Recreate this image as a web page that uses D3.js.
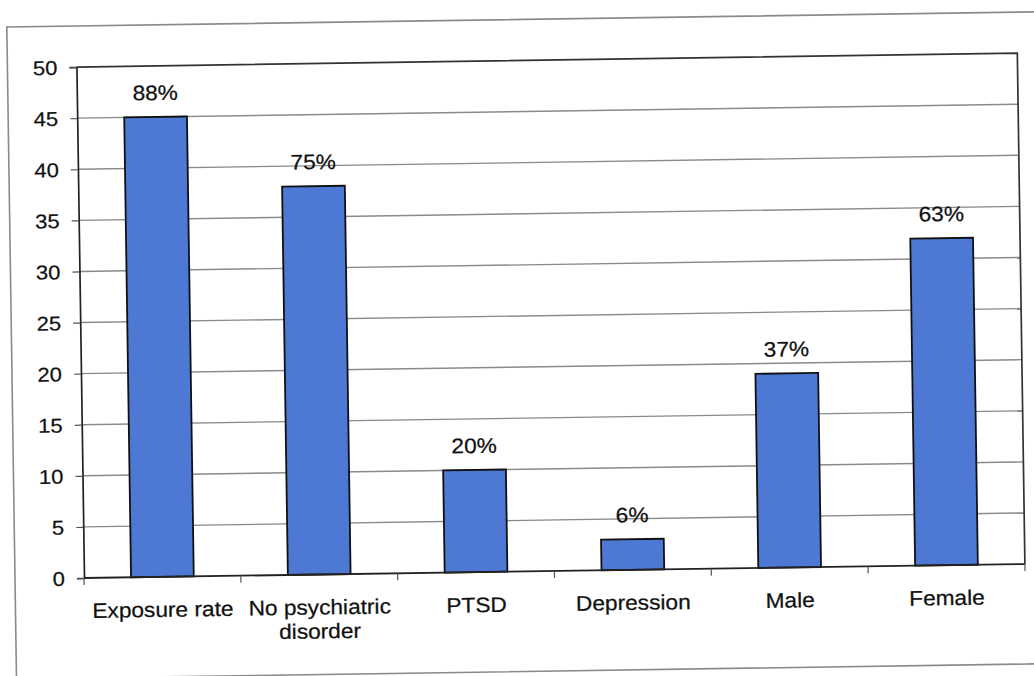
<!DOCTYPE html>
<html>
<head>
<meta charset="utf-8">
<script src="https://cdn.jsdelivr.net/npm/d3@7"></script>
<style>
  html, body { margin: 0; padding: 0; background: #fff; }
  svg { display: block; }
  text { font-family: "Liberation Sans", Arial, sans-serif; fill: #111; }
</style>
</head>
<body>
<svg id="chart" width="1034" height="676"></svg>
<script>
// ---- data ----
const categories = ["Exposure rate", "No psychiatric disorder", "PTSD", "Depression", "Male", "Female"];
const counts = [45, 38, 10, 3, 19, 32];
const percentLabels = ["88%", "75%", "20%", "6%", "37%", "63%"];
const yTicks = [0, 5, 10, 15, 20, 25, 30, 35, 40, 45, 50];

// ---- layout ----
const W = 1034, H = 676;
const plot = { left: 84, right: 1025, top: 67, bottom: 578 };
const tilt = -0.85; // the scanned page is slightly rotated
const sxTick = 1.1, sxText = 1.08;

const svg = d3.select("#chart");
svg.append("rect").attr("width", W).attr("height", H).attr("fill", "#fff");

const g = svg.append("g")
  .attr("transform", `rotate(${tilt} ${plot.left} ${plot.bottom})`);

// outer chart frame
g.append("rect")
  .attr("x", 15).attr("y", 26)
  .attr("width", 1040).attr("height", 652)
  .attr("fill", "none").attr("stroke", "#8a8a8a").attr("stroke-width", 1.6);

const x = d3.scaleBand()
  .domain(categories)
  .range([plot.left, plot.right])
  .paddingInner(0.6)
  .paddingOuter(0.3);

const y = d3.scaleLinear().domain([0, 50]).range([plot.bottom, plot.top]);

// gridlines
g.append("g").selectAll("line")
  .data(yTicks.filter(t => t > 0 && t < 50))
  .join("line")
  .attr("x1", plot.left).attr("x2", plot.right)
  .attr("y1", d => y(d)).attr("y2", d => y(d))
  .attr("stroke", "#8a8a8a").attr("stroke-width", 1.4);

// plot border (top & right)
g.append("path")
  .attr("d", `M${plot.left},${plot.top}H${plot.right}V${plot.bottom}`)
  .attr("fill", "none").attr("stroke", "#333").attr("stroke-width", 1.7);

// bars
g.append("g").selectAll("rect")
  .data(counts)
  .join("rect")
  .attr("x", (d, i) => x(categories[i]))
  .attr("width", x.bandwidth())
  .attr("y", d => y(d))
  .attr("height", d => y(0) - y(d))
  .attr("fill", "#4d78d3")
  .attr("stroke", "#111").attr("stroke-width", 1.8);

// value labels
g.append("g").selectAll("text")
  .data(percentLabels)
  .join("text")
  .attr("transform", (d, i) =>
    `translate(${x(categories[i]) + x.bandwidth() / 2},${y(counts[i]) - 17}) scale(${sxText},1)`)
  .attr("text-anchor", "middle")
  .attr("font-size", 21)
  .attr("stroke", "#111").attr("stroke-width", 0.25)
  .text(d => d);

// y axis
const yAxis = g.append("g")
  .attr("transform", `translate(${plot.left},0)`)
  .call(d3.axisLeft(y).tickValues(yTicks).tickSize(7).tickPadding(12));
yAxis.select(".domain").attr("stroke", "#222").attr("stroke-width", 1.7);
yAxis.selectAll(".tick line").attr("stroke", "#555").attr("stroke-width", 1.2);
yAxis.selectAll(".tick text")
  .attr("font-size", 20)
  .attr("font-family", "Liberation Sans, Arial, sans-serif")
  .attr("fill", "#111")
  .attr("stroke", "#111").attr("stroke-width", 0.25)
  .attr("x", null)
  .attr("dy", "0.35em")
  .attr("transform", `translate(-19,0) scale(${sxTick},1)`);

// x axis line with category separator ticks
const step = x.step();
const firstEdge = plot.left;
g.append("line")
  .attr("x1", plot.left).attr("x2", plot.right)
  .attr("y1", plot.bottom).attr("y2", plot.bottom)
  .attr("stroke", "#222").attr("stroke-width", 1.8);
g.append("g").selectAll("line")
  .data(d3.range(categories.length + 1))
  .join("line")
  .attr("x1", i => i === 0 ? plot.left : (i === categories.length ? plot.right : x(categories[i]) - step * x.paddingInner() / 2))
  .attr("x2", i => i === 0 ? plot.left : (i === categories.length ? plot.right : x(categories[i]) - step * x.paddingInner() / 2))
  .attr("y1", plot.bottom).attr("y2", plot.bottom + 7)
  .attr("stroke", "#555").attr("stroke-width", 1.2);

// category labels (wrapped to band width)
const catG = g.append("g");
categories.forEach((c, i) => {
  const cx = x(c) + x.bandwidth() / 2;
  const t = catG.append("text")
    .attr("transform", `translate(${cx},${plot.bottom + 40}) scale(${sxText},1)`)
    .attr("text-anchor", "middle")
    .attr("font-size", 21)
    .attr("stroke", "#111").attr("stroke-width", 0.25);
  const words = c.split(" ");
  let line = [];
  let tspan = t.append("tspan").attr("x", 0).attr("dy", 0);
  words.forEach(w => {
    line.push(w);
    tspan.text(line.join(" "));
    if (tspan.node().getComputedTextLength() * sxText > step && line.length > 1) {
      line.pop();
      tspan.text(line.join(" "));
      line = [w];
      tspan = t.append("tspan").attr("x", 0).attr("dy", 24).text(w);
    }
  });
});
</script>
</body>
</html>
